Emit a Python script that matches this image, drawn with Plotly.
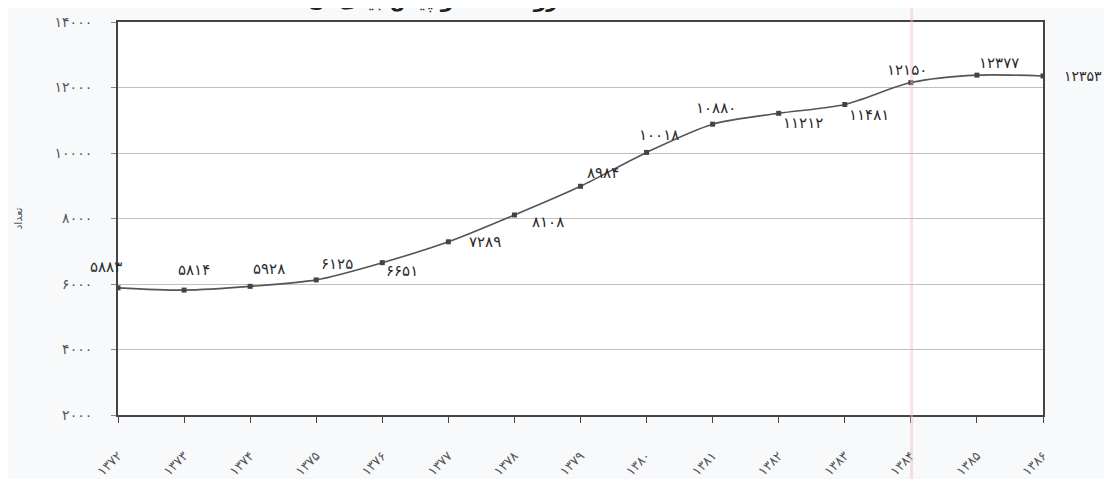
import plotly.graph_objects as go

# ---- data ----
years = [1372, 1373, 1374, 1375, 1376, 1377, 1378, 1379, 1380, 1381, 1382, 1383, 1384, 1385, 1386]
counts = [5883, 5814, 5928, 6125, 6651, 7289, 8108, 8984, 10018, 10880, 11212, 11481, 12150, 12377, 12353]
y_ticks = [2000, 4000, 6000, 8000, 10000, 12000, 14000]
y_title = "تعداد"
chart_title = "روند تعداد و پیش بینی آن"

# label offsets (pixels) for each data label — style only
label_dx = [-12, 10, 19, 21, 20, 37, 34, 22, 12, 3, 24, 24, -4, 22, 40]
label_dy = [21, 20, 17, 16, -8, 0, -7, 13, 17, 16, -10, -10, 13, 12, 0]

FA = str.maketrans("0123456789", "۰۱۲۳۴۵۶۷۸۹")


def fa(v):
    return str(v).translate(FA)


x_labels = [fa(y) for y in years]
FONT = "DejaVu Sans"

fig = go.Figure()
fig.add_trace(go.Scatter(
    x=x_labels, y=counts, mode="lines+markers",
    line=dict(shape="spline", smoothing=0.8, color="#555555", width=1.6),
    marker=dict(symbol="square", size=5, color="#444444"),
    showlegend=False, hoverinfo="skip",
))

annotations = []
for i, (xl, v, dx, dy) in enumerate(zip(x_labels, counts, label_dx, label_dy)):
    annotations.append(dict(
        x=xl, y=v, xref="x", yref="y", text=fa(v), showarrow=False,
        xshift=dx, yshift=dy,
        font=dict(family=FONT, size=14 if i == len(counts) - 1 else 15, color="#2a2a2a"),
    ))

annotations.append(dict(
    x=-0.108, y=0.5, xref="paper", yref="paper", text=y_title, showarrow=False,
    xanchor="center", textangle=-90, font=dict(family=FONT, size=11, color="#555555"),
))
annotations.append(dict(
    x=0.34, y=1.018, xref="paper", yref="paper", text="<b>" + chart_title + "</b>",
    showarrow=False, yanchor="bottom", xanchor="center",
    font=dict(family=FONT, size=20, color="#222222"),
))

fig.update_layout(
    width=1104, height=471,
    margin=dict(l=110, r=69, t=14, b=64, autoexpand=False),
    paper_bgcolor="#f8f9fb", plot_bgcolor="#ffffff",
    annotations=annotations,
    shapes=[dict(type="line", xref="paper", yref="paper", x0=0.858, x1=0.858,
                 y0=-0.17, y1=1.04, line=dict(color="rgba(240,190,190,0.45)", width=3),
                 layer="above")],
    font=dict(family=FONT),
)
fig.update_xaxes(
    type="category", range=[0, len(years) - 1], automargin=False,
    showline=True, linecolor="#444444", linewidth=2, mirror=True,
    ticks="outside", ticklen=6, tickcolor="#444444",
    tickangle=-45, ticklabelstandoff=20,
    tickfont=dict(family=FONT, size=13, color="#555555"),
    showgrid=False,
)
fig.update_yaxes(
    range=[2000, 14000], tickvals=y_ticks, ticktext=[fa(t) for t in y_ticks],
    automargin=False,
    showline=True, linecolor="#444444", linewidth=2, mirror=True,
    ticks="outside", ticklen=5, tickcolor="#888888", ticklabelstandoff=16,
    tickfont=dict(family=FONT, size=14, color="#555555"),
    showgrid=True, gridcolor="#c0c0c0", gridwidth=1, zeroline=False,
)

fig.write_html("out.html")
